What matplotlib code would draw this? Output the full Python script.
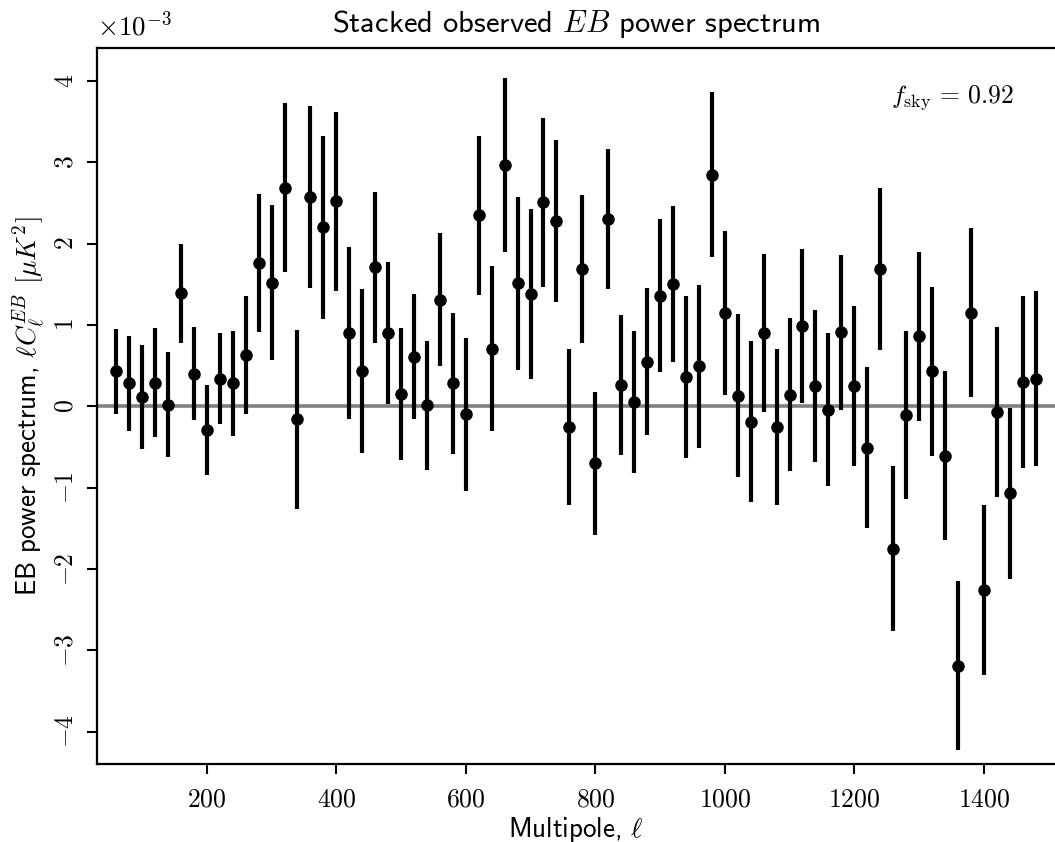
import matplotlib
matplotlib.use('Agg')
import matplotlib.pyplot as plt
from matplotlib.ticker import FuncFormatter, MultipleLocator

SCALE = 1e-3  # values below are in units of 1e-3 muK^2

ell = [60, 80, 100, 120, 140, 160, 180, 200, 220, 240, 260, 280,
       300, 320, 340, 360, 380, 400, 420, 440, 460, 480, 500, 520,
       540, 560, 580, 600, 620, 640, 660, 680, 700, 720, 740, 760,
       780, 800, 820, 840, 860, 880, 900, 920, 940, 960, 980, 1000,
       1020, 1040, 1060, 1080, 1100, 1120, 1140, 1160, 1180, 1200, 1220, 1240,
       1260, 1280, 1300, 1320, 1340, 1360, 1380, 1400, 1420, 1440, 1460, 1480]

cl_eb = [0.43, 0.28, 0.11, 0.29, 0.02, 1.39, 0.40, -0.29, 0.34, 0.28, 0.63, 1.76,
         1.52, 2.69, -0.16, 2.57, 2.20, 2.52, 0.90, 0.43, 1.71, 0.90, 0.15, 0.61,
         0.01, 1.31, 0.28, -0.10, 2.35, 0.71, 2.97, 1.51, 1.38, 2.51, 2.28, -0.25,
         1.69, -0.70, 2.30, 0.26, 0.05, 0.55, 1.36, 1.50, 0.36, 0.49, 2.85, 1.15,
         0.13, -0.19, 0.90, -0.26, 0.14, 0.99, 0.25, -0.04, 0.91, 0.25, -0.51, 1.69,
         -1.75, -0.11, 0.86, 0.43, -0.61, -3.19, 1.15, -2.26, -0.07, -1.07, 0.30, 0.34]

cl_err = [0.52, 0.58, 0.64, 0.67, 0.65, 0.61, 0.57, 0.55, 0.56, 0.64, 0.73, 0.85,
          0.95, 1.04, 1.10, 1.12, 1.13, 1.10, 1.06, 1.01, 0.93, 0.87, 0.81, 0.77,
          0.79, 0.82, 0.87, 0.94, 0.98, 1.02, 1.07, 1.06, 1.04, 1.04, 1.00, 0.96,
          0.91, 0.88, 0.86, 0.86, 0.87, 0.90, 0.94, 0.96, 1.00, 1.00, 1.01, 1.01,
          1.00, 0.99, 0.97, 0.96, 0.94, 0.95, 0.94, 0.94, 0.95, 0.98, 0.99, 1.00,
          1.01, 1.03, 1.04, 1.04, 1.04, 1.04, 1.04, 1.04, 1.05, 1.05, 1.06, 1.08]

F_SKY = 0.92

plt.rcParams['mathtext.fontset'] = 'cm'
SANS = 'cmss10'


def main():
    fig = plt.figure(figsize=(10.55, 8.42), dpi=100)
    ax = fig.add_axes([0.0917, 0.0926, 0.9083, 0.8498])

    y = [v * SCALE for v in cl_eb]
    yerr = [e * SCALE for e in cl_err]

    ax.axhline(0, color='#808080', lw=2.6, zorder=1)
    ax.errorbar(ell, y, yerr=yerr, fmt='o', color='black', ms=8,
                elinewidth=3.0, capsize=0, zorder=3)

    ax.set_xlim(30, 1510)
    ax.set_ylim(-4.4e-3, 4.4e-3)
    ax.xaxis.set_major_locator(MultipleLocator(200))
    ax.yaxis.set_major_locator(MultipleLocator(1e-3))
    ax.xaxis.set_major_formatter(FuncFormatter(lambda v, p: r'$%d$' % round(v)))
    ax.yaxis.set_major_formatter(FuncFormatter(lambda v, p: r'$%d$' % round(v / SCALE)))
    ax.tick_params(axis='both', which='major', direction='out', length=7,
                   width=1.5, labelsize=18.5, pad=6)
    ax.tick_params(axis='x', pad=9)
    ax.tick_params(axis='y', labelrotation=90)
    for lab in ax.get_yticklabels():
        lab.set_va('center')
    for side in ['left', 'bottom', 'top']:
        ax.spines[side].set_linewidth(1.6)
    ax.spines['right'].set_visible(False)

    ax.text(0.0, 1.01, r'$\times10^{-3}$', transform=ax.transAxes,
            fontsize=19.5, ha='left', va='bottom')
    ax.set_title(r'Stacked observed $EB$ power spectrum', family=SANS,
                 fontsize=22, pad=12)
    ax.set_xlabel(r'Multipole, $\ell$', family=SANS, fontsize=19.5)
    ax.xaxis.set_label_coords(0.5, -0.071)
    ax.set_ylabel(r'EB power spectrum, $\ell C_\ell^{EB}$ $[\mu K^2]$',
                  family=SANS, fontsize=19.5, labelpad=4)
    ax.text(0.957, 0.932, r'$f_{\rm sky}\,=\,%.2f$' % F_SKY, transform=ax.transAxes,
            fontsize=18.5, ha='right', va='center')

    fig.savefig('out.png', dpi=100)


if __name__ == '__main__':
    main()
